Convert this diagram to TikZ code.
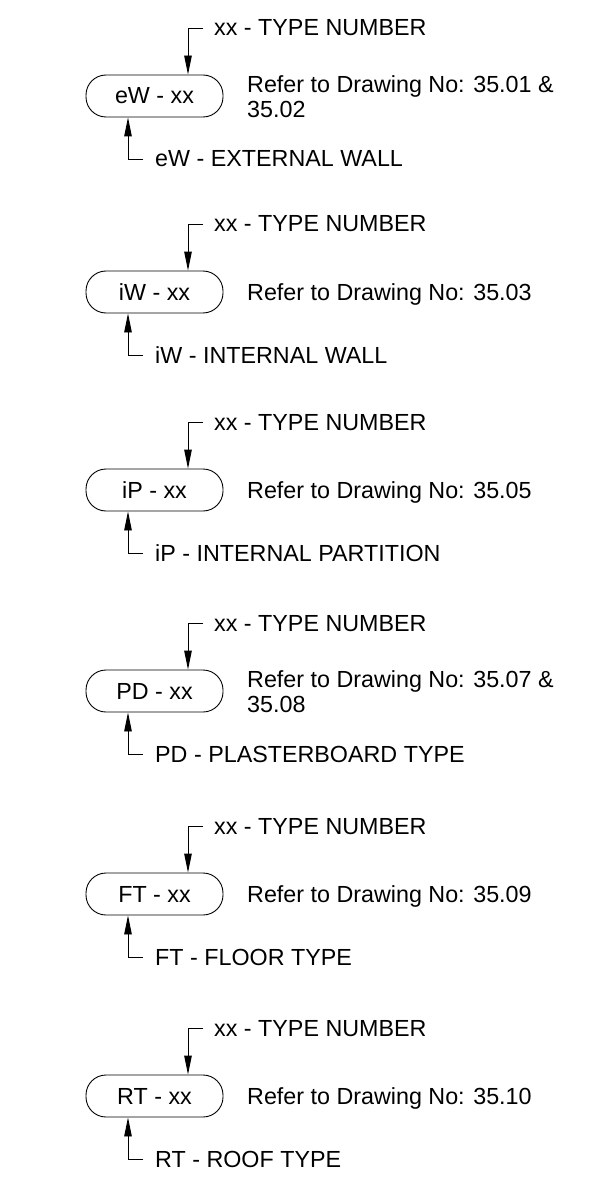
\documentclass[tikz,border=0pt]{standalone}
\usepackage{fontspec}
\setmainfont{Liberation Sans}
\usetikzlibrary{arrows.meta}
\tikzset{
  txt/.style={font=\fontsize{23.3}{25}\selectfont},
  pill/.style={txt, draw, line width=0.9pt, rounded corners=20pt,
    minimum width=137pt, minimum height=42pt, inner sep=0pt},
  lbl/.style={txt, anchor=base west, inner sep=0pt},
  reftext/.style={txt, anchor=north west, inner sep=0pt, align=left},
  lead/.style={draw, line width=0.9pt, -{Triangle[length=19pt,width=7.5pt]}}
}
\newcommand\myblock[6]{%
  \node[pill] (p#1) at (154.5,#2) {#3};
  \node[lbl] (tn#1) at (214,#2-60) {xx - TYPE NUMBER};
  \coordinate (tc#1) at ([xshift=-11pt,yshift=8pt]tn#1.base west);
  \draw[lead] (tc#1) -| ([xshift=33.5pt]p#1.north);
  \node[lbl] (bn#1) at (155,#2+71) {#4};
  \coordinate (bc#1) at ([xshift=-12pt,yshift=8pt]bn#1.base west);
  \draw[lead] (bc#1) -| ([xshift=-26.5pt]p#1.south);
  \node[reftext] (r#1) at (247,#2+#5) {#6};
}
\begin{document}
\begin{tikzpicture}[x=1pt,y=-1pt]
  \useasboundingbox (0,0) rectangle (603,1182);
  \myblock{a}{96}{eW - xx}{eW - EXTERNAL WALL}{-20.8}{Refer to Drawing No: 35.01 \&\\35.02}
  \myblock{b}{292}{iW - xx}{iW - INTERNAL WALL}{-8.8}{Refer to Drawing No: 35.03}
  \myblock{c}{490}{iP - xx}{iP - INTERNAL PARTITION}{-8.8}{Refer to Drawing No: 35.05}
  \myblock{d}{691}{PD - xx}{PD - PLASTERBOARD TYPE}{-20.8}{Refer to Drawing No: 35.07 \&\\35.08}
  \myblock{e}{894}{FT - xx}{FT - FLOOR TYPE}{-8.8}{Refer to Drawing No: 35.09}
  \myblock{f}{1096}{RT - xx}{RT - ROOF TYPE}{-8.8}{Refer to Drawing No: 35.10}
\end{tikzpicture}
\end{document}
